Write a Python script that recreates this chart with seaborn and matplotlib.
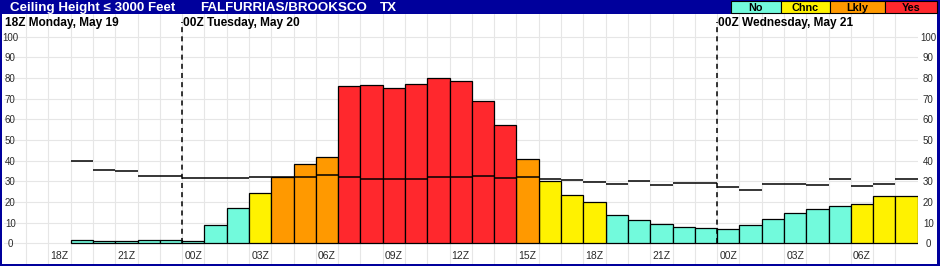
import matplotlib
matplotlib.use("Agg")
import matplotlib.pyplot as plt
from matplotlib.patches import Rectangle
import seaborn as sns
import pandas as pd

# ---------------- data ----------------
SLOTS = ([f"Mon {h:02d}Z" for h in range(16, 24)] +
         [f"Tue {h:02d}Z" for h in range(0, 24)] +
         [f"Wed {h:02d}Z" for h in range(0, 9)])
BAR_SLOTS = SLOTS[3:]  # 19Z Mon .. 08Z Wed

PROB = [1.6, 1.1, 1.1, 1.6, 1.6,
        1.0, 8.7, 16.9, 24.2, 32.2, 38.2, 41.6, 76.1, 76.6, 75.0, 77.0, 80.0,
        78.7, 68.7, 57.1, 40.7, 30.2, 23.2, 19.8, 13.9, 11.1, 9.2, 7.7, 7.3,
        6.8, 8.7, 11.6, 14.5, 16.5, 17.9, 18.9, 22.7, 22.7]
CLIMO = [39.7, 35.3, 34.8, 32.6, 32.6,
         31.4, 31.5, 31.8, 32.2, 32.2, 32.2, 32.9, 32.2, 31.0, 31.3, 31.3, 32.2,
         32.2, 32.7, 31.8, 31.9, 31.3, 30.5, 29.5, 28.6, 30.0, 28.1, 29.0, 29.0,
         27.1, 25.7, 28.6, 28.6, 28.1, 31.0, 27.6, 28.6, 31.0]
CATEGORY = (["No"] * 8 + ["Chnc"] + ["Lkly"] * 3 + ["Yes"] * 8 + ["Lkly"] +
            ["Chnc"] * 3 + ["No"] * 11 + ["Chnc"] * 3)
CATS = ["No", "Chnc", "Lkly", "Yes"]
COLORS = {"No": "#72FADC", "Chnc": "#FFF200", "Lkly": "#FF9900", "Yes": "#FF282D"}

XTICK_SLOTS = ["Mon 18Z", "Mon 21Z", "Tue 00Z", "Tue 03Z", "Tue 06Z", "Tue 09Z",
               "Tue 12Z", "Tue 15Z", "Tue 18Z", "Tue 21Z", "Wed 00Z", "Wed 03Z", "Wed 06Z"]
DATE_LABELS = ["18Z Monday, May 19", "00Z Tuesday, May 20", "00Z Wednesday, May 21"]
DAY_BREAKS = ["Tue 00Z", "Wed 00Z"]
YTICKS = [0, 10, 20, 30, 40, 50, 60, 70, 80, 90, 100]

BLUE = "#00009C"
W, H = 940, 266

df = pd.DataFrame({"slot": BAR_SLOTS, "prob": PROB, "cat": CATEGORY, "climo": CLIMO})

sns.set_theme(style="white")
plt.rcParams["font.family"] = ["Liberation Sans", "DejaVu Sans"]

fig = plt.figure(figsize=(W / 100, H / 100), dpi=100, facecolor=BLUE)
# white body
fig.patches.append(Rectangle((2 / W, 2 / H), 935 / W, 250 / H, transform=fig.transFigure,
                             facecolor="white", edgecolor="none", zorder=-5))

ax = fig.add_axes([3.8 / W, 2 / H, (917.7 - 3.8) / W, 250 / H])
ax.set_zorder(1)
ax.set_facecolor("white")

sns.barplot(data=df, x="slot", y="prob", hue="cat", order=SLOTS, hue_order=CATS,
            palette=COLORS, saturation=1, dodge=False, width=1.0, edgecolor="black",
            linewidth=0.9, errorbar=None, legend=False, ax=ax, zorder=3)

pos = {s: i for i, s in enumerate(SLOTS)}
xs = [pos[s] for s in BAR_SLOTS]
ax.hlines(CLIMO, [x - 0.5 for x in xs], [x + 0.5 for x in xs], colors="black",
          linewidth=1.1, zorder=5)

ax.set_xlim(-0.5, len(SLOTS) - 0.5)
ax.set_ylim(-10.0, 111.0)
ax.set_xticks([i - 0.5 for i in range(1, len(SLOTS))])
ax.set_yticks(YTICKS)
ax.tick_params(length=0, labelbottom=False, labelleft=False)
ax.grid(True, color="#E6E6E6", linewidth=0.8, zorder=0)
ax.set_axisbelow(True)
ax.set_xlabel("")
ax.set_ylabel("")
for sp in ax.spines.values():
    sp.set_visible(False)

# day break dashed lines
for s in DAY_BREAKS:
    ax.vlines(pos[s] - 0.5, 0, 107, colors="black", linewidth=1.1,
              linestyles=(0, (3.3, 2.7)), zorder=6)

# y labels left & right
for v in YTICKS:
    ax.text(-0.5 + 6.5 / 22.29, v, str(v), ha="center", va="center_baseline",
            fontsize=7.0, color="#2a2a2a", zorder=7)
    ax.text(len(SLOTS) - 0.5 + 10.5 / 22.29, v, str(v), ha="center", va="center_baseline",
            fontsize=7.0, color="#2a2a2a", clip_on=False, zorder=7)

# x labels
for s in XTICK_SLOTS:
    ax.text(pos[s], -7.8, s.split()[1], ha="center", va="baseline",
            fontsize=7.5, color="#2a2a2a", zorder=7)

# date labels
date_x = [-0.5, pos["Tue 00Z"] - 0.5, pos["Wed 00Z"] - 0.5]
for x, lab in zip(date_x, DATE_LABELS):
    ax.text(x + 0.06, 105.2, lab, ha="left", va="baseline", fontsize=8.6,
            fontweight="bold", color="black", zorder=8, clip_on=False)

# title bar
fig.text(10 / W, 1 - 11 / H, "Ceiling Height \u2264 3000 Feet", color="white",
         fontsize=9.6, fontweight="bold", ha="left", va="baseline")
fig.text(200 / W, 1 - 11 / H, "FALFURRIAS/BROOKSCO", color="white",
         fontsize=9.6, fontweight="bold", ha="left", va="baseline")
fig.text(380 / W, 1 - 11 / H, "TX", color="white",
         fontsize=9.6, fontweight="bold", ha="left", va="baseline")

# legend boxes
edges = [730.7, 780.7, 830.0, 885.3, 937.3]
for i, c in enumerate(CATS):
    x0, x1 = edges[i], edges[i + 1]
    fig.patches.append(Rectangle((x0 / W, 1 - 13.3 / H), (x1 - x0) / W, 12 / H,
                                 transform=fig.transFigure, facecolor=COLORS[c],
                                 edgecolor="black", linewidth=0.8, zorder=2))
    fig.text((x0 + x1) / 2 / W, 1 - 10.6 / H, c, ha="center", va="baseline",
             fontsize=7.8, fontweight="bold", color="black", zorder=3)

fig.savefig("out.png", dpi=100, facecolor=BLUE)
